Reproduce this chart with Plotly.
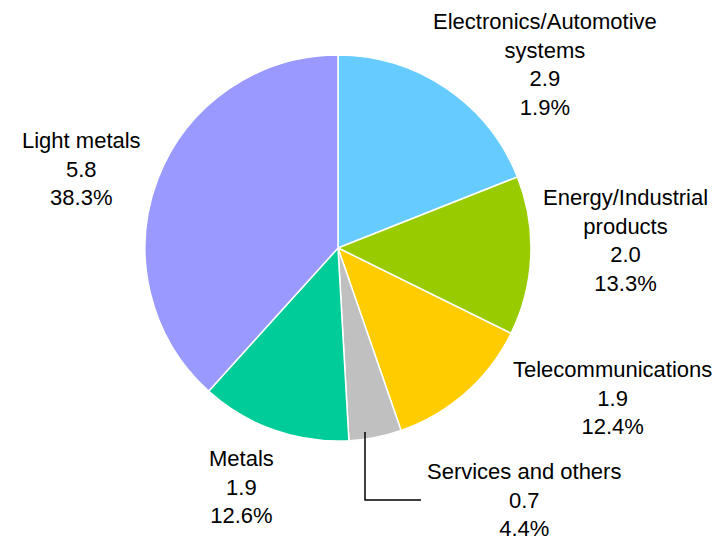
import plotly.graph_objects as go

categories = ["Electronics/Automotive<br>systems", "Energy/Industrial<br>products",
              "Telecommunications", "Services and others", "Metals", "Light metals"]
amounts = ["2.9", "2.0", "1.9", "0.7", "1.9", "5.8"]
share_labels = ["1.9%", "13.3%", "12.4%", "4.4%", "12.6%", "38.3%"]
shares = [19.0, 13.3, 12.4, 4.4, 12.6, 38.3]
colors = ["#66CCFF", "#99CC00", "#FFCC00", "#C0C0C0", "#00CC99", "#9999FF"]

# page body has an 8px margin; work in page pixels and convert
OFF = 8
W, H = 724 - OFF, 541 - OFF


def px(x):
    return (x - OFF) / W


def py(y):
    return 1 - (y - OFF) / H


# (x centre, y, vertical anchor) in page pixels
label_pos = [(545, 8, "top"), (625, 240, "middle"), (612, 398, "middle"),
             (524, 500, "middle"), (241, 487.5, "middle"), (81, 169, "middle")]

fig = go.Figure(go.Pie(
    labels=categories, values=shares, sort=False, direction="clockwise", rotation=0,
    marker=dict(colors=colors, line=dict(color="white", width=1.5)),
    textinfo="none", hoverinfo="label+percent", showlegend=False,
    domain=dict(x=[px(145), px(531)], y=[py(441), py(55)]),
))

for cat, amt, sl, (lx, ly, anc) in zip(categories, amounts, share_labels, label_pos):
    fig.add_annotation(x=px(lx), y=py(ly), xref="paper", yref="paper",
                       text=f"{cat}<br>{amt}<br>{sl}", showarrow=False,
                       xanchor="center", yanchor=anc, align="center", borderpad=0,
                       font=dict(family="Liberation Sans, Arial", size=22, color="#000000"))

# leader line for Services and others
fig.add_shape(type="path", xref="paper", yref="paper",
              path=f"M {px(365)} {py(432)} L {px(365)} {py(500)} L {px(421)} {py(500)}",
              line=dict(color="#000000", width=1.5))

fig.update_layout(width=W, height=H, margin=dict(l=0, r=0, t=0, b=0),
                  paper_bgcolor="white", plot_bgcolor="white")
fig.write_html("out.html")
